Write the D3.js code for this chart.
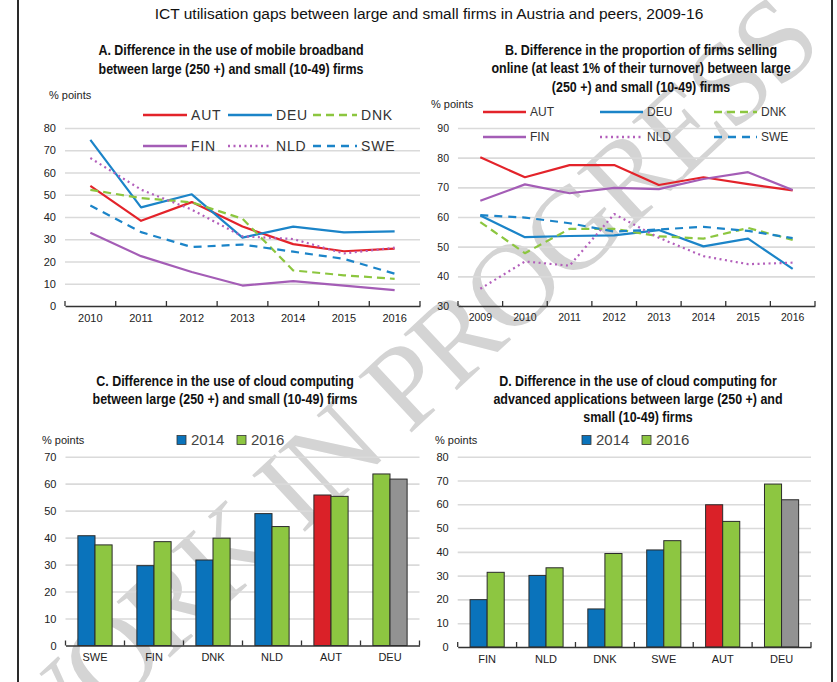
<!DOCTYPE html>
<html>
<head>
<meta charset="utf-8">
<script src="https://cdn.jsdelivr.net/npm/d3@7"></script>
<style>
  body { margin: 0; background: #fff; }
  svg { display: block; }
</style>
</head>
<body>
<svg id="chart" width="837" height="682"></svg>
<script>
// ---------- data ----------
const mainTitle = "ICT utilisation gaps between large and small firms in Austria and peers, 2009-16";
const watermarkText = "WORK IN PROGRESS";

// A. mobile broadband gap (% points)
const yearsA = ["2010", "2011", "2012", "2013", "2014", "2015", "2016"];
const broadbandAUT = [54.0, 38.3, 46.7, 35.7, 27.8, 24.6, 25.8];
const broadbandDEU = [74.7, 44.3, 50.2, 30.7, 35.7, 33.1, 33.5];
const broadbandDNK = [52.2, 48.5, 46.6, 39.2, 16.0, 13.8, 12.2];
const broadbandFIN = [32.9, 22.4, 15.3, 9.2, 11.2, 9.2, 7.1];
const broadbandNLD = [66.5, 52.3, 43.3, 31.3, 30.1, 23.6, 26.2];
const broadbandSWE = [45.2, 33.2, 26.5, 27.6, 24.4, 21.2, 14.5];
const ticksA = [0, 10, 20, 30, 40, 50, 60, 70, 80];

// B. selling online gap (% points)
const yearsB = ["2009", "2010", "2011", "2012", "2013", "2014", "2015", "2016"];
const onlineAUT = [80.1, 73.4, 77.5, 77.5, 70.8, 73.4, 71.1, 69.0];
const onlineDEU = [60.5, 53.2, 53.6, 53.8, 55.6, 50.1, 52.7, 42.5];
const onlineDNK = [58.3, 47.8, 56.0, 56.0, 53.5, 52.7, 56.3, 52.3];
const onlineFIN = [65.5, 71.0, 68.0, 69.8, 69.4, 72.8, 75.1, 69.1];
const onlineNLD = [35.8, 45.0, 43.6, 61.0, 53.0, 46.8, 44.1, 44.6];
const onlineSWE = [60.6, 59.8, 57.9, 55.1, 55.8, 56.7, 55.3, 52.9];
const ticksB = [30, 40, 50, 60, 70, 80, 90];

// C. cloud computing gap (% points)
const countriesC = ["SWE", "FIN", "DNK", "NLD", "AUT", "DEU"];
const cloud2014 = [40.7, 29.6, 31.7, 48.9, 55.8, 63.6];
const cloud2016 = [37.3, 38.5, 39.8, 44.1, 55.3, 61.7];
const ticksC = [0, 10, 20, 30, 40, 50, 60, 70];

// D. advanced cloud computing gap (% points)
const countriesD = ["FIN", "NLD", "DNK", "SWE", "AUT", "DEU"];
const advCloud2014 = [19.9, 30.1, 16.0, 40.8, 59.8, 68.5];
const advCloud2016 = [31.4, 33.3, 39.3, 44.7, 52.8, 61.9];
const ticksD = [0, 10, 20, 30, 40, 50, 60, 70, 80];

const barYears = ["2014", "2016"];
const unitLabel = "% points";

// ---------- styling ----------
const FONT = "'Liberation Sans', Arial, sans-serif";
const C_RED = "#e3232a", C_BLUE = "#1b84c8", C_GREEN = "#8cc63f",
      C_PURPLE = "#a45db6", C_LILAC = "#b35fbb";
const BAR_BLUE = "#0a73bb", BAR_GREEN = "#8dc641", BAR_RED = "#da2128", BAR_GREY = "#929292";
const GRID = "#dadada";

const lineStyles = {
  AUT: { color: C_RED, dash: null },
  DEU: { color: C_BLUE, dash: null },
  DNK: { color: C_GREEN, dash: "8,5" },
  FIN: { color: C_PURPLE, dash: null },
  NLD: { color: C_LILAC, dash: "2,3.5" },
  SWE: { color: C_BLUE, dash: "8,6" }
};

const svg = d3.select("#chart");

// ---------- watermark: letters set one by one along a guide path ----------
(function drawWatermark() {
  const wm = svg.append("g");
  const size = 118;
  const tracking = 0.95;
  const guide = wm.append("path")
    .attr("d", "M -39 799 L 840 -20")
    .attr("fill", "none").attr("stroke", "none").node();
  const probe = wm.append("text")
    .attr("font-family", "'Liberation Serif', 'DejaVu Serif', serif")
    .attr("font-size", size).attr("opacity", 0).text(watermarkText);
  const node = probe.node();
  const chars = watermarkText.split("");
  let offset = 60;
  const placed = [];
  chars.forEach((ch, i) => {
    const w = node.getSubStringLength(i, 1) * tracking;
    const mid = offset + w / 2;
    offset += w;
    if (ch === " ") return;
    const p = guide.getPointAtLength(mid);
    const q = guide.getPointAtLength(mid + 1);
    const ang = Math.atan2(q.y - p.y, q.x - p.x) * 180 / Math.PI;
    placed.push({ ch, x: p.x, y: p.y, ang });
  });
  probe.remove();
  wm.selectAll("text.wm").data(placed).join("text")
    .attr("class", "wm")
    .attr("transform", d => `translate(${d.x},${d.y}) rotate(${d.ang})`)
    .attr("text-anchor", "middle").attr("dy", "0.33em")
    .attr("font-family", "'Liberation Serif', 'DejaVu Serif', serif")
    .attr("font-size", size).attr("fill", "#d4d4d4")
    .text(d => d.ch);
})();

// ---------- frame ----------
svg.append("line").attr("x1", 18).attr("x2", 18).attr("y1", 0).attr("y2", 682)
  .attr("stroke", "#2a2a2a").attr("stroke-width", 2);
svg.append("line").attr("x1", 832).attr("x2", 832).attr("y1", 0).attr("y2", 682)
  .attr("stroke", "#2a2a2a").attr("stroke-width", 2);

// ---------- titles ----------
svg.append("text").attr("x", 429).attr("y", 19).attr("text-anchor", "middle")
  .attr("font-family", FONT).attr("font-size", 15.5).attr("fill", "#111")
  .text(mainTitle);

// condensed bold panel headings
function panelTitle(lines, cx, y0, dy) {
  const t = svg.append("text").attr("text-anchor", "middle")
    .attr("transform", `translate(${cx},0) scale(0.86,1)`)
    .attr("font-family", FONT).attr("font-weight", "bold")
    .attr("font-size", 14.5).attr("fill", "#111");
  lines.forEach((s, i) => t.append("tspan").attr("x", 0).attr("y", y0 + i * dy).text(s));
}
panelTitle(["A. Difference in the use of mobile broadband",
            "between large (250 +) and small (10-49) firms"], 231, 55, 19);
panelTitle(["B. Difference in the proportion of firms selling",
            "online (at least 1% of their turnover) between large",
            "(250 +) and small (10-49) firms"], 641, 55, 18.5);
panelTitle(["C. Difference in the use of cloud computing",
            "between large (250 +) and small (10-49) firms"], 225, 386, 18);
panelTitle(["D. Difference in the use of cloud computing for",
            "advanced applications between large (250 +) and",
            "small (10-49) firms"], 638, 386, 18);

function unitText(x, y) {
  svg.append("text").attr("x", x).attr("y", y).attr("font-family", FONT)
    .attr("font-size", 11).attr("fill", "#222").text(unitLabel);
}

// ---------- shared axis helpers ----------
function valueAxis(g, y, ticks, x0, x1, size) {
  const ax = g.append("g").attr("transform", `translate(${x0},0)`)
    .call(d3.axisLeft(y).tickValues(ticks).tickSize(-(x1 - x0)).tickPadding(9));
  ax.select(".domain").remove();
  ax.selectAll(".tick line").attr("stroke", GRID).attr("stroke-width", 1.6)
    .filter(d => d === ticks[0]).remove();
  ax.selectAll(".tick text").attr("font-family", FONT).attr("font-size", size)
    .attr("fill", "#222");
}

function categoryAxis(g, x, y0, size, pad) {
  const ax = g.append("g").attr("transform", `translate(0,${y0})`)
    .call(d3.axisBottom(x).tickSize(0).tickPadding(pad));
  ax.select(".domain").attr("stroke", "#333").attr("stroke-width", 1.5);
  ax.selectAll(".tick text").attr("font-family", FONT).attr("font-size", size)
    .attr("fill", "#222");
  // band-edge tick marks pointing into the plot
  const edges = x.domain().map(d => x(d)).concat([x.range()[1]]);
  g.append("g").selectAll("line").data(edges).join("line")
    .attr("x1", d => d).attr("x2", d => d)
    .attr("y1", y0 - 5).attr("y2", y0)
    .attr("stroke", "#333").attr("stroke-width", 1.3);
}

// ---------- line panels ----------
function linePanel(p) {
  const g = svg.append("g");
  const x = d3.scaleBand().domain(p.years).range([p.x0, p.x1]);
  const y = d3.scaleLinear().domain([p.ticks[0], p.ticks[p.ticks.length - 1]])
    .range([p.yBottom, p.yTop]);
  valueAxis(g, y, p.ticks, p.x0, p.x1, p.tickSize);

  const line = d3.line()
    .x((d, i) => x(p.years[i]) + x.bandwidth() / 2)
    .y(d => y(d));
  p.series.forEach(s => {
    const st = lineStyles[s.name];
    g.append("path").datum(s.values)
      .attr("d", line).attr("fill", "none")
      .attr("stroke", st.color).attr("stroke-width", 2.2)
      .attr("stroke-dasharray", st.dash)
      .attr("stroke-linejoin", "round");
  });
  categoryAxis(g, x, p.yBottom, p.tickSize, 8);

  // legend: two rows of three entries
  p.series.forEach((s, i) => {
    const st = lineStyles[s.name];
    const col = i % 3, row = Math.floor(i / 3);
    const lx = p.legend.cols[col], ly = p.legend.rows[row];
    g.append("line").attr("x1", lx).attr("x2", lx + p.legend.len)
      .attr("y1", ly).attr("y2", ly)
      .attr("stroke", st.color).attr("stroke-width", 2.4)
      .attr("stroke-dasharray", st.dash);
    g.append("text").attr("x", lx + p.legend.len + p.legend.gap).attr("y", ly)
      .attr("dy", "0.36em").attr("font-family", FONT)
      .attr("font-size", p.legend.size).attr("letter-spacing", p.legend.spacing)
      .attr("fill", "#333").text(s.name);
  });
}

linePanel({
  years: yearsA, ticks: ticksA, x0: 65, x1: 420, yTop: 128, yBottom: 306, tickSize: 11,
  series: [
    { name: "AUT", values: broadbandAUT }, { name: "DEU", values: broadbandDEU },
    { name: "DNK", values: broadbandDNK }, { name: "FIN", values: broadbandFIN },
    { name: "NLD", values: broadbandNLD }, { name: "SWE", values: broadbandSWE }
  ],
  legend: { cols: [143, 228, 313], rows: [115, 146], len: 44, gap: 4, size: 14, spacing: 0.8 }
});
unitText(49, 99);

linePanel({
  years: yearsB, ticks: ticksB, x0: 458, x1: 815, yTop: 128, yBottom: 306, tickSize: 10.5,
  series: [
    { name: "AUT", values: onlineAUT }, { name: "DEU", values: onlineDEU },
    { name: "DNK", values: onlineDNK }, { name: "FIN", values: onlineFIN },
    { name: "NLD", values: onlineNLD }, { name: "SWE", values: onlineSWE }
  ],
  legend: { cols: [483, 600, 714], rows: [112, 137], len: 43, gap: 4, size: 12, spacing: 0 }
});
unitText(431, 108);

// ---------- bar panels ----------
function barPanel(p) {
  const g = svg.append("g");
  const x = d3.scaleBand().domain(p.countries).range([p.x0, p.x1]);
  const inner = d3.scaleBand().domain(barYears)
    .range([x.bandwidth() * 0.21, x.bandwidth() * 0.79]);
  const y = d3.scaleLinear().domain([p.ticks[0], p.ticks[p.ticks.length - 1]])
    .range([p.yBottom, p.yTop]);
  valueAxis(g, y, p.ticks, p.x0, p.x1, 11);

  const rows = [];
  p.countries.forEach((c, i) => {
    rows.push({ c, yr: "2014", v: p.v2014[i],
      fill: c === "AUT" ? BAR_RED : c === "DEU" ? BAR_GREEN : BAR_BLUE });
    rows.push({ c, yr: "2016", v: p.v2016[i],
      fill: c === "DEU" ? BAR_GREY : BAR_GREEN });
  });
  g.append("g").selectAll("rect").data(rows).join("rect")
    .attr("x", d => x(d.c) + inner(d.yr))
    .attr("width", inner.bandwidth())
    .attr("y", d => y(d.v))
    .attr("height", d => y(0) - y(d.v))
    .attr("fill", d => d.fill)
    .attr("stroke", "#2b2b2b").attr("stroke-width", 1);
  categoryAxis(g, x, p.yBottom, 11, 8);

  // legend
  const lg = g.append("g");
  [[p.legendX, BAR_BLUE, "2014"], [p.legendX + 60, BAR_GREEN, "2016"]].forEach(([lx, col, label]) => {
    lg.append("rect").attr("x", lx).attr("y", p.legendY - 4.5).attr("width", 9).attr("height", 9)
      .attr("fill", col).attr("stroke", "#333").attr("stroke-width", 0.8);
    lg.append("text").attr("x", lx + 14).attr("y", p.legendY).attr("dy", "0.36em")
      .attr("font-family", FONT).attr("font-size", 15).attr("fill", "#444").text(label);
  });
}

barPanel({
  countries: countriesC, v2014: cloud2014, v2016: cloud2016, ticks: ticksC,
  x0: 65.5, x1: 419.5, yTop: 456.7, yBottom: 645.5, legendX: 177, legendY: 440
});
unitText(42, 444);

barPanel({
  countries: countriesD, v2014: advCloud2014, v2016: advCloud2016, ticks: ticksD,
  x0: 457.7, x1: 811, yTop: 456.7, yBottom: 647, legendX: 582, legendY: 440
});
unitText(435, 444);
</script>
</body>
</html>
